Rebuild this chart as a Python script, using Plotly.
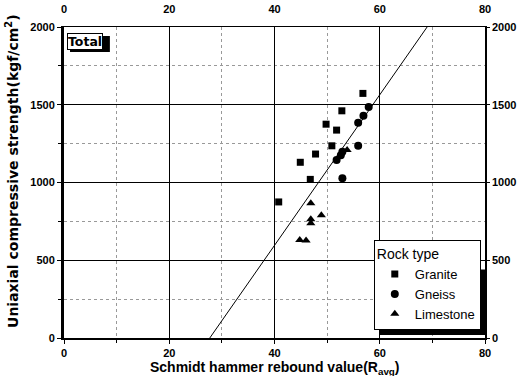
import plotly.graph_objects as go

# ---- data ----
granite_x = [56.8, 52.8, 49.8, 51.8, 50.9, 47.8, 44.9, 46.8, 40.8]
granite_y = [1573, 1461, 1375, 1337, 1236, 1183, 1130, 1020, 875]

gneiss_x = [57.9, 56.9, 55.9, 55.9, 52.9, 51.8, 52.6, 52.9]
gneiss_y = [1485, 1429, 1384, 1236, 1027, 1144, 1176, 1198]

limestone_x = [53.8, 46.9, 48.9, 46.9, 46.9, 44.8, 46.0]
limestone_y = [1209, 866, 789, 764, 738, 631, 627]

fit_x = [27.7, 69.0]
fit_y = [0, 2000]

x_ticks = [0, 20, 40, 60, 80]
y_ticks = [0, 500, 1000, 1500, 2000]

FONT = "Liberation Sans, Arial, sans-serif"
WIDE = "DejaVu Sans, Liberation Sans, sans-serif"

fig = go.Figure()

fig.add_trace(go.Scatter(x=fit_x, y=fit_y, mode="lines",
                         line=dict(color="black", width=1),
                         showlegend=False, hoverinfo="skip"))
fig.add_trace(go.Scatter(x=granite_x, y=granite_y, mode="markers", name="Granite",
                         marker=dict(symbol="square", size=7, color="black")))
fig.add_trace(go.Scatter(x=gneiss_x, y=gneiss_y, mode="markers", name="Gneiss",
                         marker=dict(symbol="circle", size=8, color="black")))
fig.add_trace(go.Scatter(x=limestone_x, y=limestone_y, mode="markers", name="Limestone",
                         marker=dict(symbol="triangle-up", size=8, color="black")))
# helper trace so the top / right axes are drawn
fig.add_trace(go.Scatter(x=[0], y=[0], xaxis="x2", yaxis="y2", mode="markers",
                         marker=dict(size=1, opacity=0),
                         showlegend=False, hoverinfo="skip"))

tickfont = dict(family=FONT, size=11, color="black", weight="bold")

common_grid = dict(
    showgrid=True, gridcolor="black", gridwidth=1.2, zeroline=False,
    ticks="outside", ticklen=4, tickcolor="black", tickwidth=1,
    tickfont=tickfont, automargin=False,
)

fig.update_layout(
    width=521, height=376,
    margin=dict(l=64, r=36, t=27, b=38),
    paper_bgcolor="white", plot_bgcolor="white",
    font=dict(family=FONT, color="black"),
    xaxis=dict(range=[0, 80], tickvals=x_ticks, showline=True, linecolor="black",
               linewidth=2,
               minor=dict(dtick=10, tick0=0, showgrid=True, griddash="dot",
                          gridcolor="#999", gridwidth=1, ticks="outside",
                          ticklen=3, tickcolor="black"),
               **common_grid),
    yaxis=dict(range=[0, 2000], tickvals=y_ticks, showline=True, linecolor="black",
               linewidth=3,
               minor=dict(dtick=250, tick0=0, showgrid=True, griddash="dot",
                          gridcolor="#999", gridwidth=1, ticks="outside",
                          ticklen=3, tickcolor="black"),
               **common_grid),
    xaxis2=dict(range=[0, 80], tickvals=x_ticks, overlaying="x", side="top",
                showgrid=False, zeroline=False, showline=True, linecolor="black",
                linewidth=1, ticks="", tickfont=tickfont, ticklabelstandoff=9,
                automargin=False),
    yaxis2=dict(range=[0, 2000], tickvals=y_ticks, overlaying="y", side="right",
                showgrid=False, zeroline=False, showline=True, linecolor="black",
                linewidth=1.5, ticks="outside", ticklen=3, tickcolor="black",
                tickfont=tickfont, automargin=False),
    legend=dict(
        title=dict(text="Rock type", font=dict(family=FONT, size=14, color="black")),
        font=dict(family=FONT, size=13, color="black"),
        x=0.99, y=0.026, xanchor="right", yanchor="bottom",
        bgcolor="white", bordercolor="black", borderwidth=1,
        itemsizing="trace", tracegroupgap=0,
    ),
    shapes=[
        # legend shadow
        dict(type="rect", xref="paper", yref="paper",
             x0=0.75, x1=1.0, y0=0.010, y1=0.22,
             fillcolor="black", line=dict(width=0), layer="above"),
        # "Total" box shadow
        dict(type="rect", xref="paper", yref="paper",
             x0=0.0143, x1=0.109, y0=0.9196, y1=0.971,
             fillcolor="black", line=dict(width=0), layer="above"),
    ],
    annotations=[
        dict(text="<b>Total</b>", xref="paper", yref="paper", x=0.006, y=0.981,
             xanchor="left", yanchor="top", showarrow=False,
             font=dict(family=WIDE, size=12.5, color="black"),
             bgcolor="white", bordercolor="black", borderwidth=1, borderpad=0),
        dict(text="<b>Schmidt hammer rebound value(R<sub>avg</sub>)</b>",
             xref="paper", yref="paper", x=0.5, y=0, yshift=-19,
             xanchor="center", yanchor="top", showarrow=False,
             font=dict(family=FONT, size=14, color="black")),
        dict(text="<b>Uniaxial compressive strength(kgf/cm<sup>2</sup>)</b>",
             xref="paper", yref="paper", x=0, xshift=-52, y=0.537,
             xanchor="center", yanchor="middle", textangle=-90, showarrow=False,
             font=dict(family=WIDE, size=14, color="black")),
    ],
)

fig.write_html("out.html")
